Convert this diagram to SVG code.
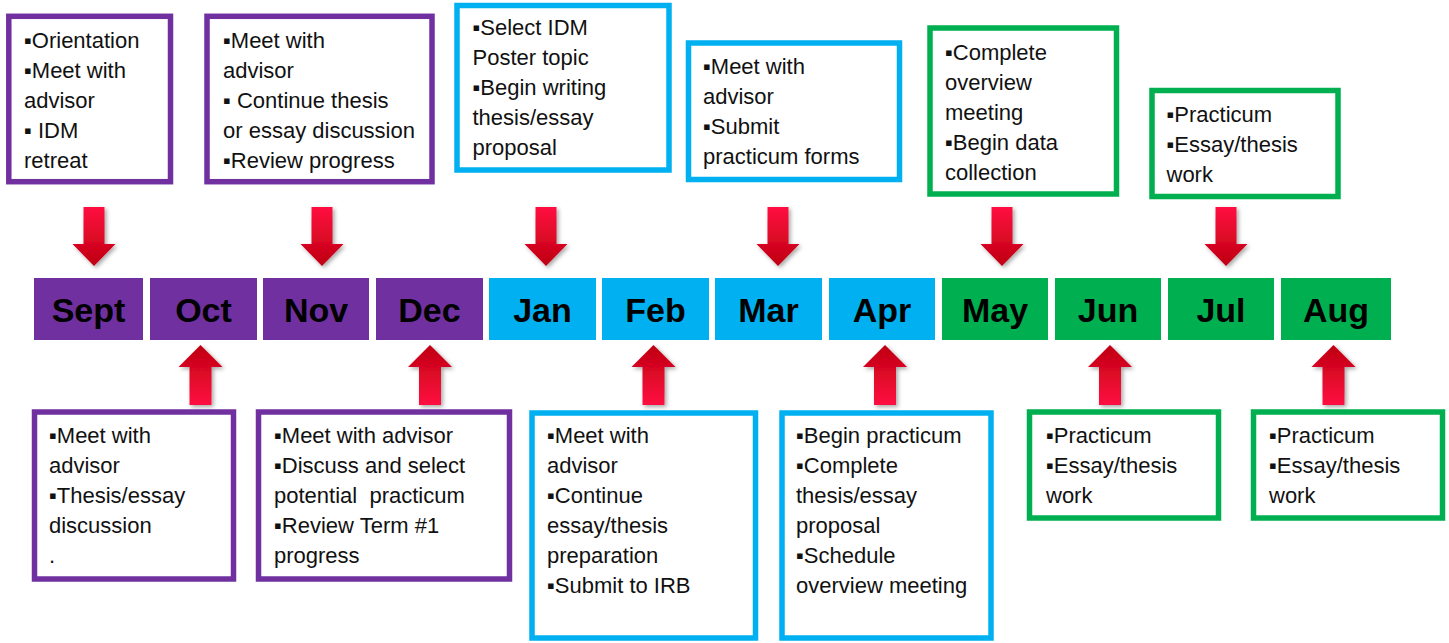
<svg xmlns="http://www.w3.org/2000/svg" xmlns:xlink="http://www.w3.org/1999/xlink" width="1449" height="643" viewBox="0 0 1449 643">
<style>
.box{fill:#fff;stroke-width:5.5}
.p{stroke:#7030A0}.b{stroke:#00B0F0}.g{stroke:#00B050}
.mp{fill:#7030A0}.mb{fill:#00B0F0}.mg{fill:#00B050}
.t{font-family:"Liberation Sans",Arial,sans-serif;font-size:22px;fill:#111;white-space:pre}
.m{font-family:"Liberation Sans",Arial,sans-serif;font-size:34px;font-weight:bold;fill:#000;text-anchor:middle}
</style>
<defs>
<linearGradient id="gd" x1="0" y1="0" x2="0" y2="1"><stop offset="0" stop-color="#FF1040"/><stop offset="1" stop-color="#BE0010"/></linearGradient>
<linearGradient id="gu" x1="0" y1="0" x2="0" y2="1"><stop offset="0" stop-color="#BE0010"/><stop offset="1" stop-color="#FF1040"/></linearGradient>
<filter id="sh" x="-50%" y="-50%" width="200%" height="200%"><feDropShadow dx="2" dy="2" stdDeviation="2" flood-color="#000" flood-opacity="0.35"/></filter>
<path id="ad" d="M-10.5,0H10.5V37H21.5L0,59L-21.5,37H-10.5Z" fill="url(#gd)" filter="url(#sh)"/>
<path id="au" d="M0,0L22,22H11V60H-11V22H-22Z" fill="url(#gu)" filter="url(#sh)"/>
</defs>
<rect width="1449" height="643" fill="#fff"/>

<g id="months">
<g id="m-sept"><rect class="mp" x="34" y="278" width="109" height="62"/><text class="m" x="88.5" y="322">Sept</text></g>
<g id="m-oct"><rect class="mp" x="150" y="278" width="107" height="62"/><text class="m" x="203.5" y="322">Oct</text></g>
<g id="m-nov"><rect class="mp" x="263" y="278" width="106" height="62"/><text class="m" x="316" y="322">Nov</text></g>
<g id="m-dec"><rect class="mp" x="376" y="278" width="107" height="62"/><text class="m" x="429.5" y="322">Dec</text></g>
<g id="m-jan"><rect class="mb" x="489" y="278" width="107" height="62"/><text class="m" x="542.5" y="322">Jan</text></g>
<g id="m-feb"><rect class="mb" x="602" y="278" width="107" height="62"/><text class="m" x="655.5" y="322">Feb</text></g>
<g id="m-mar"><rect class="mb" x="715" y="278" width="107" height="62"/><text class="m" x="768.5" y="322">Mar</text></g>
<g id="m-apr"><rect class="mb" x="829" y="278" width="106" height="62"/><text class="m" x="882" y="322">Apr</text></g>
<g id="m-may"><rect class="mg" x="942" y="278" width="106" height="62"/><text class="m" x="995" y="322">May</text></g>
<g id="m-jun"><rect class="mg" x="1055" y="278" width="106" height="62"/><text class="m" x="1108" y="322">Jun</text></g>
<g id="m-jul"><rect class="mg" x="1168" y="278" width="106" height="62"/><text class="m" x="1221" y="322">Jul</text></g>
<g id="m-aug"><rect class="mg" x="1281" y="278" width="110" height="62"/><text class="m" x="1336" y="322">Aug</text></g>
</g>

<g id="connectors">
<use href="#ad" x="94" y="207"/>
<use href="#ad" x="322" y="207"/>
<use href="#ad" x="546" y="207"/>
<use href="#ad" x="778" y="207"/>
<use href="#ad" x="1002" y="207"/>
<use href="#ad" x="1226" y="207"/>
<use href="#au" x="200.5" y="345"/>
<use href="#au" x="430" y="345"/>
<use href="#au" x="653.5" y="345"/>
<use href="#au" x="885" y="345"/>
<use href="#au" x="1110" y="345"/>
<use href="#au" x="1333.5" y="345"/>
</g>

<g id="box-sept">
<rect class="box p" x="8.8" y="16.3" width="161.7" height="165.4"/>
<text class="t" x="24" y="48">▪Orientation</text>
<text class="t" x="24" y="78">▪Meet with</text>
<text class="t" x="24" y="108">advisor</text>
<text class="t" x="24" y="138">▪ IDM</text>
<text class="t" x="24" y="168">retreat</text>
</g>
<g id="box-nov">
<rect class="box p" x="207" y="16.3" width="225" height="165.4"/>
<text class="t" x="223" y="48">▪Meet with</text>
<text class="t" x="223" y="78">advisor</text>
<text class="t" x="223" y="108">▪ Continue thesis</text>
<text class="t" x="223" y="138">or essay discussion</text>
<text class="t" x="223" y="168">▪Review progress</text>
</g>
<g id="box-jan">
<rect class="box b" x="457" y="5.5" width="212" height="164.5"/>
<text class="t" x="472.5" y="35">▪Select IDM</text>
<text class="t" x="472.5" y="65">Poster topic</text>
<text class="t" x="472.5" y="95">▪Begin writing</text>
<text class="t" x="472.5" y="125">thesis/essay</text>
<text class="t" x="472.5" y="155">proposal</text>
</g>
<g id="box-mar">
<rect class="box b" x="688.5" y="43" width="211" height="136.5"/>
<text class="t" x="703" y="74">▪Meet with</text>
<text class="t" x="703" y="104">advisor</text>
<text class="t" x="703" y="134">▪Submit</text>
<text class="t" x="703" y="164">practicum forms</text>
</g>
<g id="box-may">
<rect class="box g" x="930" y="28" width="186.5" height="166"/>
<text class="t" x="945" y="59.5">▪Complete</text>
<text class="t" x="945" y="89.5">overview</text>
<text class="t" x="945" y="119.5">meeting</text>
<text class="t" x="945" y="149.5">▪Begin data</text>
<text class="t" x="945" y="179.5">collection</text>
</g>
<g id="box-jul">
<rect class="box g" x="1152" y="90.5" width="186" height="106"/>
<text class="t" x="1166.5" y="121.7">▪Practicum</text>
<text class="t" x="1166.5" y="151.7">▪Essay/thesis</text>
<text class="t" x="1166.5" y="181.7">work</text>
</g>
<g id="box-oct">
<rect class="box p" x="34.5" y="412" width="199" height="167"/>
<text class="t" x="49" y="443">▪Meet with</text>
<text class="t" x="49" y="473">advisor</text>
<text class="t" x="49" y="503">▪Thesis/essay</text>
<text class="t" x="49" y="533">discussion</text>
<text class="t" x="49" y="563">.</text>
</g>
<g id="box-dec">
<rect class="box p" x="258.5" y="412" width="251" height="167"/>
<text class="t" x="274" y="443">▪Meet with advisor</text>
<text class="t" x="274" y="473">▪Discuss and select</text>
<text class="t" x="274" y="503">potential  practicum</text>
<text class="t" x="274" y="533">▪Review Term #1</text>
<text class="t" x="274" y="563">progress</text>
</g>
<g id="box-feb">
<rect class="box b" x="532" y="413" width="223.5" height="225"/>
<text class="t" x="547" y="443">▪Meet with</text>
<text class="t" x="547" y="473">advisor</text>
<text class="t" x="547" y="503">▪Continue</text>
<text class="t" x="547" y="533">essay/thesis</text>
<text class="t" x="547" y="563">preparation</text>
<text class="t" x="547" y="593">▪Submit to IRB</text>
</g>
<g id="box-apr">
<rect class="box b" x="782" y="413" width="209" height="225"/>
<text class="t" x="796" y="443">▪Begin practicum</text>
<text class="t" x="796" y="473">▪Complete</text>
<text class="t" x="796" y="503">thesis/essay</text>
<text class="t" x="796" y="533">proposal</text>
<text class="t" x="796" y="563">▪Schedule</text>
<text class="t" x="796" y="593">overview meeting</text>
</g>
<g id="box-jun">
<rect class="box g" x="1029.5" y="412" width="189" height="106"/>
<text class="t" x="1046" y="443">▪Practicum</text>
<text class="t" x="1046" y="473">▪Essay/thesis</text>
<text class="t" x="1046" y="503">work</text>
</g>
<g id="box-aug">
<rect class="box g" x="1253.5" y="412" width="189" height="106"/>
<text class="t" x="1269" y="443">▪Practicum</text>
<text class="t" x="1269" y="473">▪Essay/thesis</text>
<text class="t" x="1269" y="503">work</text>
</g>
</svg>
